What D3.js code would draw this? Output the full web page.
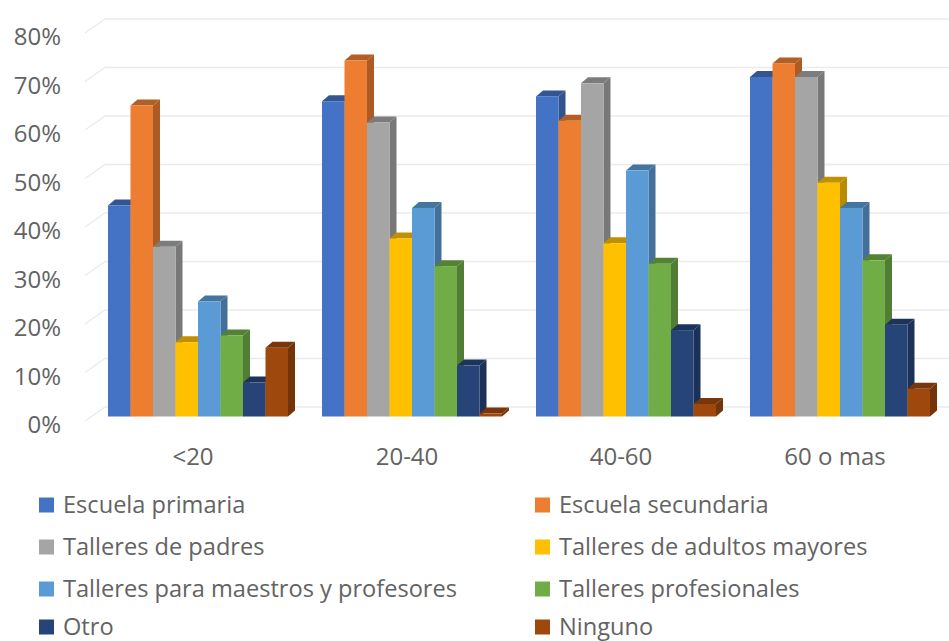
<!DOCTYPE html>
<html>
<head>
<meta charset="utf-8">
<script src="https://cdnjs.cloudflare.com/ajax/libs/d3/7.8.5/d3.min.js"></script>
<style>
  body { margin: 0; background: #fff; }
  text { font-family: "Open Sans", sans-serif; fill: #636363; }
</style>
</head>
<body>
<div id="chart"></div>
<script>
var categories = ['<20', '20-40', '40-60', '60 o mas'];
var seriesNames = ['Escuela primaria', 'Escuela secundaria', 'Talleres de padres', 'Talleres de adultos mayores',
  'Talleres para maestros y profesores', 'Talleres profesionales', 'Otro', 'Ninguno'];
var colors = ['#4472c4', '#ed7d31', '#a5a5a5', '#ffc000', '#5b9bd5', '#70ad47', '#264478', '#9e480e'];
var yTicks = [0, 10, 20, 30, 40, 50, 60, 70, 80];

// one row per age group, same order as seriesNames
var under20 = [43.5, 64.1, 35, 15.3, 23.7, 16.7, 7, 14.2];
var from20to40 = [65, 73.4, 60.6, 36.7, 43, 31, 10.5, 0.6];
var from40to60 = [66, 61, 68.7, 35.7, 50.7, 31.5, 17.8, 2.6];
var over60 = [70, 72.8, 70, 48.2, 43, 32.2, 18.9, 5.7];
var values = [under20, from20to40, from40to60, over60];

var width = 949, height = 641;

var svg = d3.select('#chart').append('svg')
  .attr('width', width)
  .attr('height', height);

// y runs on the back wall; the other planes are shifted copies of it
var y = d3.scaleLinear().domain([0, 80]).range([407, 19]);
var wallDx = 20, wallDy = 14;      // back wall to front edge of the floor
var barOffset = 9.5, barDx = 7, barDy = 6;

var x0 = d3.scaleBand().domain(categories).range([91, 947]).paddingInner(34 / 214).paddingOuter(17 / 214);
var x1 = d3.scaleBand().domain(seriesNames).range([0, x0.bandwidth()]);

// Gridlines with the short diagonal on the left wall
var grid = svg.append('g').attr('fill', 'none').attr('stroke', '#ebebeb').attr('stroke-width', 1.5);
grid.selectAll('path')
  .data(yTicks)
  .enter().append('path')
    .attr('d', function (d) {
      return 'M' + (105 - wallDx) + ',' + (y(d) + wallDy) + 'L105,' + y(d) + 'H' + width;
    });

// Bars: side and top faces first, then the front, series by series so later ones overlap
var groups = svg.selectAll('.group')
  .data(values)
  .enter().append('g')
    .attr('class', 'group')
    .attr('transform', function (d, i) { return 'translate(' + x0(categories[i]) + ',' + barOffset + ')'; });

var bars = groups.selectAll('.bar')
  .data(function (d) { return d; })
  .enter().append('g')
    .attr('class', 'bar');

bars.append('path')
  .attr('fill', function (d, i) { return d3.color(colors[i]).darker(0.9); })
  .attr('d', function (d, i) {
    var r = x1(seriesNames[i]) + x1.bandwidth();
    return 'M' + r + ',' + y(0) + 'L' + (r + barDx) + ',' + (y(0) - barDy) +
      'V' + (y(d) - barDy) + 'L' + r + ',' + y(d) + 'Z';
  });

bars.append('path')
  .attr('fill', function (d, i) { return d3.color(colors[i]).darker(0.8); })
  .attr('d', function (d, i) {
    var l = x1(seriesNames[i]), r = l + x1.bandwidth();
    return 'M' + l + ',' + y(d) + 'L' + (l + barDx) + ',' + (y(d) - barDy) +
      'H' + (r + barDx) + 'L' + r + ',' + y(d) + 'Z';
  });

bars.append('rect')
  .attr('x', function (d, i) { return x1(seriesNames[i]); })
  .attr('y', function (d) { return y(d); })
  .attr('width', x1.bandwidth())
  .attr('height', function (d) { return y(0) - y(d); })
  .attr('fill', function (d, i) { return colors[i]; });

// Axes, text only
var yAxis = svg.append('g')
  .attr('transform', 'translate(64,' + (wallDy + 4) + ')')
  .call(d3.axisLeft(y).tickValues(yTicks).tickSize(0).tickFormat(function (d) { return d + '%'; }));
yAxis.select('.domain').remove();
yAxis.selectAll('text').style('font-size', '24px').style('font-family', '"Open Sans", sans-serif');

var xAxis = svg.append('g')
  .attr('transform', 'translate(-5,445)')
  .call(d3.axisBottom(x0).tickSize(0));
xAxis.select('.domain').remove();
xAxis.selectAll('text').style('font-size', '24px').style('font-family', '"Open Sans", sans-serif');

// Legend, two columns
var legendX = d3.scaleOrdinal().domain([0, 1]).range([39, 535]);
var legendY = d3.scaleOrdinal().domain([0, 1, 2, 3]).range([505, 547, 589, 627]);

var legend = svg.selectAll('.legend')
  .data(seriesNames)
  .enter().append('g')
    .attr('class', 'legend')
    .attr('transform', function (d, i) {
      return 'translate(' + legendX(i % 2) + ',' + legendY(Math.floor(i / 2)) + ')';
    });

legend.append('rect')
  .attr('y', -7.5)
  .attr('width', 15)
  .attr('height', 15)
  .attr('fill', function (d, i) { return colors[i]; });

legend.append('text')
  .attr('x', 24)
  .attr('dy', '0.35em')
  .style('font-size', '23.6px')
  .text(function (d) { return d; });
</script>
</body>
</html>
